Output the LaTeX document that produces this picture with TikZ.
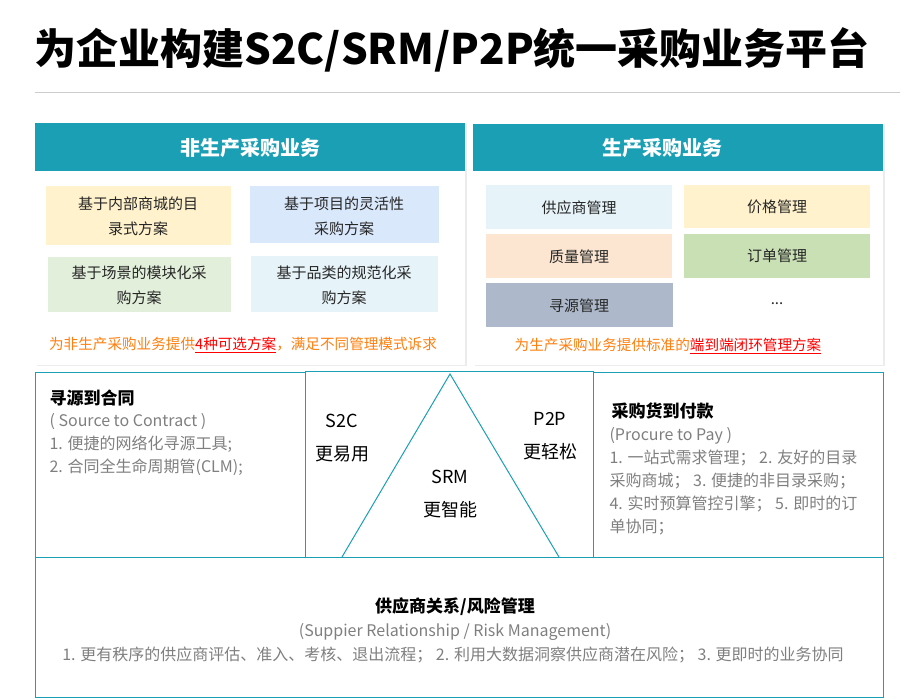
\documentclass[tikz,border=0pt]{standalone}
\usepackage{fontspec}
\setmainfont{Noto Sans CJK SC}
\usetikzlibrary{shadows}
\definecolor{teal1}{HTML}{1A9FB5}
\definecolor{org}{HTML}{FF7F0E}
\definecolor{gtx}{HTML}{7F7F7F}
\definecolor{cy}{HTML}{FFF2CC}
\definecolor{cb}{HTML}{DAE8FC}
\definecolor{cg}{HTML}{E2EFDA}
\definecolor{cl}{HTML}{E6F3F8}
\definecolor{co}{HTML}{FCE6D2}
\definecolor{cgr}{HTML}{C9E0B4}
\definecolor{cs}{HTML}{ADB9CA}
\tikzset{
 pan/.style={fill=white,draw=none,drop shadow={shadow xshift=1.5pt,shadow yshift=-1.5pt,opacity=.15}},
 hdr/.style={fill=teal1},
 cell/.style={draw=none,font=\fontsize{15}{25}\selectfont,align=center,text=black!85},
 frm/.style={draw=teal1,line width=1pt},
 bt/.style={font=\fontsize{16}{23}\selectfont,align=left,text=gtx,anchor=north west},
}
\begin{document}
\begin{tikzpicture}[x=1pt,y=-1pt]
\useasboundingbox (0,0) rectangle (919,700);
\node[anchor=west,font=\fontsize{42}{44}\selectfont\bfseries] (title) at (31,50) {为企业构建S2C/SRM/P2P统一采购业务平台};
\draw[black!20,line width=0.8pt] (35,92) -- (900,92);
% left panel
\fill[pan] (35,123) rectangle (465,365);
\fill[hdr] (35,123) rectangle (465,171);
\node[text=white,font=\fontsize{20}{22}\selectfont\bfseries] (h1) at (250,148) {非生产采购业务};
\fill[cy] (46,186) rectangle (231,245); \node[cell] (a1) at (138,216) {基于内部商城的目\\录式方案};
\fill[cb] (250,186) rectangle (439,243); \node[cell] (a2) at (344,216) {基于项目的灵活性\\采购方案};
\fill[cg] (48,257) rectangle (231,312); \node[cell] (a3) at (139,285) {基于场景的模块化采\\购方案};
\fill[cl] (251,256) rectangle (438,312); \node[cell] (a4) at (344,285) {基于品类的规范化采\\购方案};
\node[font=\fontsize{14.6}{16}\selectfont,text=org] (n1) at (243,345) {为非生产采购业务提供\textcolor{red}{\underline{4种可选方案}}，满足不同管理模式诉求};
% right panel
\fill[pan] (473,124) rectangle (883,365);
\fill[hdr] (473,124) rectangle (883,171);
\node[text=white,font=\fontsize{20}{22}\selectfont\bfseries] (h2) at (662,148) {生产采购业务};
\fill[cl] (486,185) rectangle (672,229); \node[cell] (b1) at (579,208) {供应商管理};
\fill[cy] (684,185) rectangle (870,228); \node[cell] (b2) at (777,207) {价格管理};
\fill[co] (486,234) rectangle (672,278); \node[cell] (b3) at (579,257) {质量管理};
\fill[cgr] (684,234) rectangle (870,278); \node[cell] (b4) at (777,256) {订单管理};
\fill[cs] (486,283) rectangle (673,327); \node[cell] (b5) at (579,306) {寻源管理};
\node[cell] (b6) at (777,304) {...};
\node[font=\fontsize{14.6}{16}\selectfont,text=org] (n2) at (668,346) {为生产采购业务提供标准的\textcolor{red}{\underline{端到端闭环管理方案}}};
% bottom frames
\draw[frm] (35,373) rectangle (305,557);
\draw[frm] (305,372) rectangle (593,557);
\draw[frm] (593,373) rectangle (883,557);
\draw[frm] (35,557) rectangle (883,697);
\coordinate (apex) at (450,374);
\coordinate (bl) at (342,557);
\coordinate (br) at (559,557);
\draw[teal1,line width=1pt] (bl) -- (apex) -- (br);
\node[anchor=west,font=\fontsize{17}{20}\selectfont\bfseries] (l1) at (46,398) {寻源到合同};
\node[bt] (l2) at (46,410) {( Source to Contract )\\1. 便捷的网络化寻源工具;\\2. 合同全生命周期管(CLM);};
\node[font=\fontsize{18}{33}\selectfont,align=center] (s2c) at (342,438) {S2C\\更易用};
\node[font=\fontsize{18}{33}\selectfont,align=center] (p2p) at (550,436) {P2P\\更轻松};
\node[font=\fontsize{18}{33}\selectfont,align=center] (srm) at (450,494) {SRM\\更智能};
\node[anchor=west,font=\fontsize{17}{20}\selectfont\bfseries] (r1) at (608,411) {采购货到付款};
\node[bt] (r2) at (606,424) {(Procure to Pay )\\1. 一站式需求管理；\ 2. 友好的目录\\采购商城；\ 3. 便捷的非目录采购；\\4. 实时预算管控引擎；\ 5. 即时的订\\单协同；};
\node[font=\fontsize{17}{20}\selectfont\bfseries] (c1) at (455,607) {供应商关系/风险管理};
\node[font=\fontsize{16}{20}\selectfont,text=gtx] (c2) at (455,632) {(Suppier Relationship / Risk Management)};
\node[font=\fontsize{16}{20}\selectfont,text=gtx] (c3) at (453,655) {1. 更有秩序的供应商评估、准入、考核、退出流程；\ 2. 利用大数据洞察供应商潜在风险；\ 3. 更即时的业务协同};
\end{tikzpicture}
\end{document}
